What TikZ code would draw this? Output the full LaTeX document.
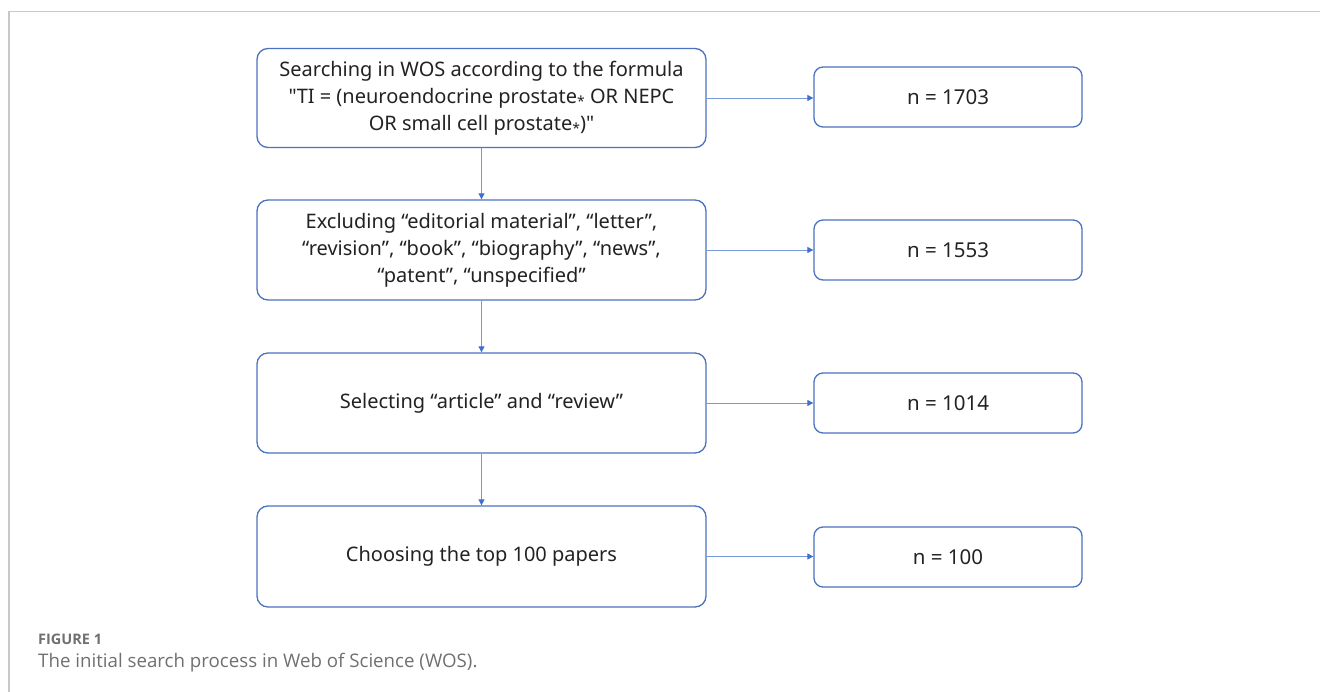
\documentclass[tikz,border=0pt]{standalone}
\usepackage{fontspec}
\setmainfont{Noto Sans}
\newfontfamily\capfont{Open Sans}
\usetikzlibrary{arrows.meta}
\definecolor{boxblue}{HTML}{4A72C0}
\definecolor{lineblue}{HTML}{7898D8}
\definecolor{tipblue}{HTML}{3F6FD0}
\definecolor{txt}{HTML}{222222}
\definecolor{capgray}{HTML}{707070}
\definecolor{framegray}{HTML}{C8C8C8}
\newcommand{\myast}{\raisebox{-2.8pt}{\fontsize{14}{14}\selectfont *}}
\tikzset{
  lbox/.style={draw=boxblue, line width=1.3pt, rounded corners=11pt, minimum width=449pt, minimum height=99pt, align=center, font=\fontsize{20}{27}\selectfont, text=txt, inner sep=0pt},
  rbox/.style={draw=boxblue, line width=1.3pt, rounded corners=9pt, minimum width=268pt, minimum height=60pt, align=center, font=\fontsize{20.5}{27}\selectfont, text=txt, inner sep=0pt},
  conn/.style={draw=lineblue, line width=0.9pt, -{Triangle[width=6pt,length=6pt,color=tipblue]}},
  frame/.style={draw=framegray, line width=1.2pt}
}
\begin{document}
\begin{tikzpicture}[x=1pt,y=-1pt]
\useasboundingbox (0,0) rectangle (1320,692);
\coordinate (f1) at (9,692);
\coordinate (f2) at (9,11.5);
\coordinate (f3) at (1320,11.5);
\draw[frame] (f1) -- (f2) -- (f3);

\node[lbox] (a) at (481.5,98) {Searching in WOS according to the formula\\\textquotedbl TI = (neuroendocrine prostate\myast{} OR NEPC\\OR small cell prostate\myast)\textquotedbl};
\node[lbox, minimum height=100pt] (b) at (481.5,250) {Excluding “editorial material”, “letter”,\\“revision”, “book”, “biography”, “news”,\\“patent”, “unspecified”};
\node[lbox, minimum height=100pt] (c) at (481.5,403) {Selecting “article” and “review”};
\node[lbox, minimum height=101pt] (d) at (481.5,556.5) {Choosing the top 100 papers};

\node[rbox] (r1) at (948,97) {n = 1703};
\node[rbox] (r2) at (948,250) {n = 1553};
\node[rbox] (r3) at (948,403) {n = 1014};
\node[rbox] (r4) at (948,557) {n = 100};

\draw[conn] (a) -- (b);
\draw[conn] (b) -- (c);
\draw[conn] (c) -- (d);
\draw[conn] (a.east) -- (a.east -| r1.west);
\draw[conn] (b.east) -- (b.east -| r2.west);
\draw[conn] (c.east) -- (c.east -| r3.west);
\draw[conn] (d.east) -- (d.east -| r4.west);

\node[anchor=base west, inner sep=0pt, text=capgray, font=\capfont\fontsize{14.5}{16}\selectfont\bfseries] (fig) at (38,644) {FIGURE 1};
\node[anchor=base west, inner sep=0pt, text=capgray, font=\capfont\fontsize{18.7}{21}\selectfont] (cap) at (38,667) {The initial search process in Web of Science (WOS).};
\end{tikzpicture}
\end{document}
